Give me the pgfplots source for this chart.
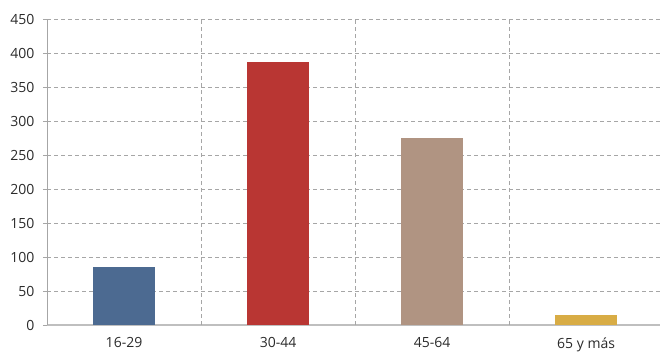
\documentclass[border=0pt]{standalone}
\usepackage{pgfplots}
\pgfplotsset{compat=1.18}
\usepackage{fontspec}
\setmainfont{Open Sans}
\definecolor{cblue}{HTML}{4C6A91}
\definecolor{cred}{HTML}{B93633}
\definecolor{ctaupe}{HTML}{B09482}
\definecolor{cgold}{HTML}{D8AC45}
\definecolor{gridc}{HTML}{A6A6A6}
\definecolor{axc}{HTML}{BFBFBF}
\definecolor{txt}{HTML}{2B2B2B}
\begin{document}
\begin{tikzpicture}[x=1pt,y=1pt]
\useasboundingbox (0,0) rectangle (660,354);
\begin{axis}[
  at={(47pt,29pt)}, anchor=south west,
  scale only axis, width=613pt, height=306pt,
  xmin=-0.5, xmax=3.48, ymin=0, ymax=450,
  ytick={0,50,...,450},
  xtick={0,1,2,3},
  xticklabels={16-29,30-44,45-64,65 y más},
  axis x line*=bottom, axis y line*=left,
  x axis line style={draw=axc, line width=1.6pt, -},
  y axis line style={draw=gridc, line width=0.8pt, -},
  tick align=outside,
  major tick length=4pt,
  ytick style={draw=gridc, line width=0.8pt},
  major x tick style={draw=none},
  ymajorgrids,
  major grid style={draw=gridc, line width=0.8pt, dash pattern=on 4pt off 3pt},
  extra x ticks={0.5,1.5,2.5},
  extra x tick labels={},
  extra x tick style={grid=major, tick style={draw=gridc, line width=0.8pt}, major tick length=5pt},
  /pgf/number format/assume math mode=true,
  tick label style={font=\fontsize{14}{16}\selectfont, text=txt},
  yticklabel style={xshift=-5pt},
  xticklabel style={yshift=-5pt},
]
\addplot[ybar, bar shift=0pt, bar width=62pt, fill=cblue, draw=none] coordinates {(0,85)};
\addplot[ybar, bar shift=0pt, bar width=62pt, fill=cred, draw=none] coordinates {(1,387)};
\addplot[ybar, bar shift=0pt, bar width=62pt, fill=ctaupe, draw=none] coordinates {(2,275)};
\addplot[ybar, bar shift=0pt, bar width=62pt, fill=cgold, draw=none] coordinates {(3,15)};
\end{axis}
\end{tikzpicture}
\end{document}
